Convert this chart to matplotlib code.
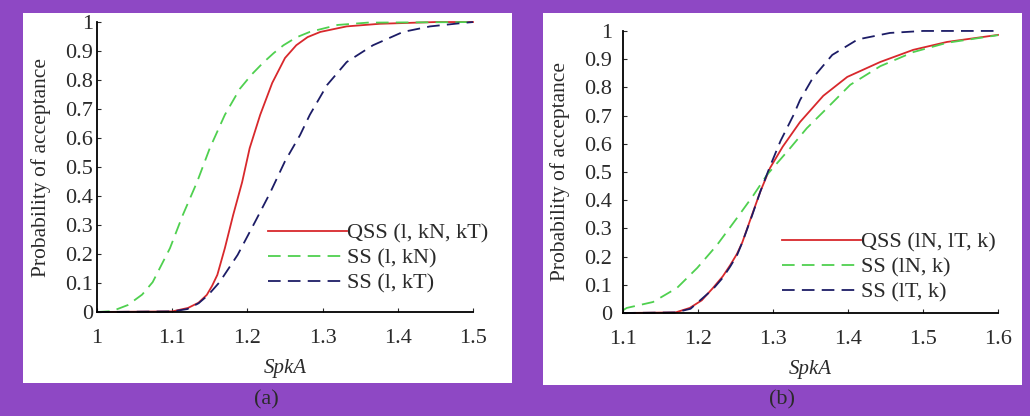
import numpy as np
import matplotlib.pyplot as plt
from matplotlib.patches import Rectangle

# ---- panel (a) data ----
xa_qss = [1.0, 1.1, 1.121, 1.135, 1.146, 1.153, 1.16, 1.17, 1.181, 1.193, 1.203,
          1.217, 1.233, 1.25, 1.265, 1.28, 1.297, 1.332, 1.376, 1.45, 1.5]
ya_qss = [0.0, 0.002, 0.014, 0.032, 0.059, 0.09, 0.128, 0.22, 0.334, 0.448, 0.565,
          0.68, 0.79, 0.876, 0.92, 0.948, 0.966, 0.985, 0.994, 1.0, 1.0]
xa_kn = [1.0, 1.02, 1.041, 1.06, 1.074, 1.097, 1.114, 1.133, 1.15, 1.17, 1.19,
         1.206, 1.221, 1.235, 1.248, 1.265, 1.283, 1.32, 1.36, 1.5]
ya_kn = [0.0, 0.003, 0.024, 0.06, 0.103, 0.22, 0.334, 0.448, 0.565, 0.68, 0.77,
         0.82, 0.86, 0.893, 0.92, 0.947, 0.966, 0.99, 0.998, 1.0]
xa_kt = [1.0, 1.1, 1.12, 1.135, 1.148, 1.163, 1.187, 1.21, 1.23, 1.25, 1.27,
         1.283, 1.306, 1.332, 1.367, 1.407, 1.443, 1.487, 1.5]
ya_kt = [0.0, 0.002, 0.01, 0.03, 0.059, 0.103, 0.197, 0.31, 0.41, 0.52, 0.61,
         0.68, 0.783, 0.862, 0.92, 0.966, 0.985, 0.997, 1.0]

# ---- panel (b) data ----
xb_qss = [1.1, 1.17, 1.189, 1.205, 1.22, 1.233, 1.243, 1.252, 1.259, 1.272, 1.283,
          1.296, 1.313, 1.336, 1.367, 1.399, 1.443, 1.487, 1.532, 1.6]
yb_qss = [0.0, 0.002, 0.018, 0.045, 0.089, 0.13, 0.17, 0.21, 0.25, 0.348, 0.43,
          0.514, 0.59, 0.677, 0.77, 0.837, 0.89, 0.933, 0.961, 0.986]
xb_ln = [1.1, 1.105, 1.14, 1.172, 1.199, 1.225, 1.252, 1.274, 1.292, 1.323, 1.345,
         1.367, 1.403, 1.443, 1.487, 1.532, 1.6]
yb_ln = [0.01, 0.018, 0.039, 0.089, 0.16, 0.24, 0.337, 0.418, 0.49, 0.585, 0.655,
         0.713, 0.809, 0.875, 0.925, 0.958, 0.985]
xb_lt = [1.1, 1.17, 1.19, 1.22, 1.233, 1.243, 1.252, 1.259, 1.272, 1.283, 1.296,
         1.31, 1.327, 1.336, 1.353, 1.379, 1.413, 1.456, 1.5, 1.6]
yb_lt = [0.0, 0.002, 0.015, 0.085, 0.125, 0.165, 0.205, 0.25, 0.345, 0.43, 0.52,
         0.61, 0.70, 0.755, 0.833, 0.915, 0.97, 0.993, 1.0, 1.0]

labels_a = ['QSS (l, kN, kT)', 'SS (l, kN)', 'SS (l, kT)']
labels_b = ['QSS (lN, lT, k)', 'SS (lN, k)', 'SS (lT, k)']
xticks_a = [1, 1.1, 1.2, 1.3, 1.4, 1.5]
xticks_b = [1.1, 1.2, 1.3, 1.4, 1.5, 1.6]
yticks = [0, 0.1, 0.2, 0.3, 0.4, 0.5, 0.6, 0.7, 0.8, 0.9, 1]

RED = '#d8282c'
GREEN = '#4fd04f'
NAVY = '#1c1c66'
PURPLE = '#8e48c4'
TXT = '#2a2a2a'

plt.rcParams['font.family'] = ['Liberation Serif', 'DejaVu Serif']
fs = 16

fig = plt.figure(figsize=(10.30, 4.16), dpi=100, facecolor=PURPLE)

# white panels behind each chart
fig.patches.append(Rectangle((0.0223, 0.0793), 0.4748, 0.889, transform=fig.transFigure,
                             facecolor='white', edgecolor='none', zorder=-5))
fig.patches.append(Rectangle((0.527, 0.0745), 0.465, 0.894, transform=fig.transFigure,
                             facecolor='white', edgecolor='none', zorder=-5))


def draw(ax, series, labels, xlim, xticks, legend_anchor, ypad, ylabpad):
    dashes = [None, (7, 4), (7, 4)]
    colors = [RED, GREEN, NAVY]
    for (x, y), lab, c, d in zip(series, labels, colors, dashes):
        if d is None:
            ax.plot(x, y, color=c, lw=1.3, label=lab, clip_on=False)
        else:
            ax.plot(x, y, color=c, lw=1.3, dashes=d, label=lab, clip_on=False)
    ax.set_xlim(*xlim)
    ax.set_ylim(0, 1)
    ax.set_facecolor('none')
    for s in ('top', 'right'):
        ax.spines[s].set_visible(False)
    for s in ('left', 'bottom'):
        ax.spines[s].set_linewidth(1.3)
    ax.set_xticks(xticks)
    ax.set_xticklabels([('%g' % t) for t in xticks])
    ax.set_yticks(yticks)
    ax.set_yticklabels([('%g' % t) for t in yticks])
    ax.tick_params(direction='in', length=3, labelsize=fs, colors=TXT)
    ax.tick_params(axis='x', pad=12)
    ax.tick_params(axis='y', pad=ypad)
    ax.set_xlabel('SpkA', fontsize=fs - 1, style='italic', labelpad=8, color=TXT)
    ax.set_ylabel('Probability of acceptance', fontsize=fs - 0.5, labelpad=ylabpad, color=TXT)
    leg = ax.legend(loc='center left', bbox_to_anchor=legend_anchor, frameon=False,
                    fontsize=fs, handlelength=3.55, handletextpad=0.0,
                    labelspacing=0.2, borderpad=0, borderaxespad=0)
    for t in leg.get_texts():
        t.set_color(TXT)


ax1 = fig.add_axes([0.0942, 0.25, 0.365, 0.697])
draw(ax1, [(xa_qss, ya_qss), (xa_kn, ya_kn), (xa_kt, ya_kt)], labels_a,
     (1.0, 1.5), xticks_a, (0.455, 0.186), 3, 10)

ax2 = fig.add_axes([0.6049, 0.2476, 0.364, 0.678])
draw(ax2, [(xb_qss, yb_qss), (xb_ln, yb_ln), (xb_lt, yb_lt)], labels_b,
     (1.1, 1.6), xticks_b, (0.424, 0.163), 8, 10)

fig.text(266 / 1030, 1 - 400 / 416, '(a)', ha='center', va='center', fontsize=fs, color=TXT)
fig.text(782 / 1030, 1 - 400 / 416, '(b)', ha='center', va='center', fontsize=fs, color=TXT)

fig.savefig('out.png', dpi=100, facecolor=PURPLE)
